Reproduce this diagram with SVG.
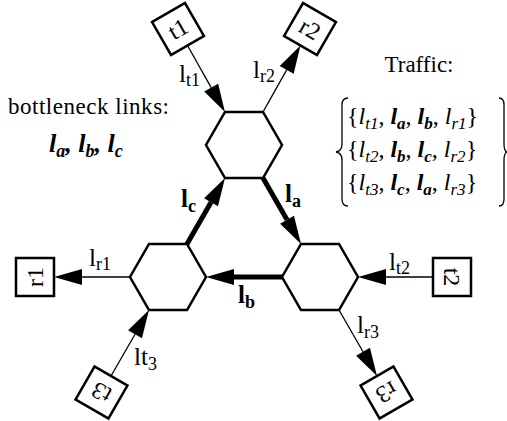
<svg xmlns="http://www.w3.org/2000/svg" width="507" height="421" viewBox="0 0 507 421">
<style>
.hex{fill:#fff;stroke:#000;stroke-width:2.5;stroke-linejoin:miter}
.box{fill:#fff;stroke:#000;stroke-width:2.5}
.thin{stroke:#000;stroke-width:1.3;fill:none;marker-end:url(#ah)}
.thick{stroke:#000;stroke-width:5;fill:none;marker-end:url(#ah)}
.brace{stroke:#000;stroke-width:1.3;fill:none}
text{font-family:"Liberation Serif","Times New Roman",serif;fill:#000}
.lbl{font-size:25px}
.bld{font-weight:bold}
.it{font-style:italic}
.bi{font-weight:bold;font-style:italic}
.bx{font-size:24px;text-anchor:middle}
</style>
<defs>
<marker id="ah" markerUnits="userSpaceOnUse" markerWidth="28" markerHeight="16" refX="0" refY="8" orient="auto" overflow="visible"><path d="M0,0 L28,8 L0,16 z" fill="#000"/></marker>
</defs>
<rect width="507" height="421" fill="#fff"/>

<g id="connectors">
<line class="thick" x1="187" y1="244" x2="211.03" y2="202.27"/>
<line class="thick" x1="263" y1="178" x2="287.03" y2="219.73"/>
<line class="thick" x1="282" y1="277" x2="234" y2="277"/>
<line class="thin" x1="187.5" y1="45.5" x2="211.2" y2="87.6"/>
<line class="thin" x1="263" y1="112" x2="286.7" y2="69.9"/>
<line class="thin" x1="130" y1="277" x2="82" y2="277"/>
<line class="thin" x1="433" y1="277" x2="386" y2="277"/>
<line class="thin" x1="111" y1="376" x2="135.03" y2="334.27"/>
<line class="thin" x1="339" y1="310" x2="363.03" y2="351.73"/>
</g>

<g id="router-top"><polygon class="hex" points="225,112 263,112 282,145 263,178 225,178 206,145"/></g>
<g id="router-left"><polygon class="hex" points="149,244 187,244 206,277 187,310 149,310 130,277"/></g>
<g id="router-right"><polygon class="hex" points="301,244 339,244 358,277 339,310 301,310 282,277"/></g>

<g id="node-t1" transform="translate(178,29) rotate(-30)"><rect class="box" x="-19" y="-19" width="38" height="38"/><text class="bx" x="0" y="8">t1</text></g>
<g id="node-r2" transform="translate(310,29) rotate(30)"><rect class="box" x="-19" y="-19" width="38" height="38"/><text class="bx" x="0" y="8">r2</text></g>
<g id="node-r1" transform="translate(35,277) rotate(-90)"><rect class="box" x="-19" y="-19" width="38" height="38"/><text class="bx" x="0" y="8">r1</text></g>
<g id="node-t2" transform="translate(452,277) rotate(90)"><rect class="box" x="-19" y="-19" width="38" height="38"/><text class="bx" x="0" y="8">t2</text></g>
<g id="node-t3" transform="translate(101.5,392.5) rotate(-150)"><rect class="box" x="-19" y="-19" width="38" height="38"/><text class="bx" x="0" y="8">t3</text></g>
<g id="node-r3" transform="translate(386.5,392.5) rotate(150)"><rect class="box" x="-19" y="-19" width="38" height="38"/><text class="bx" x="0" y="8">r3</text></g>

<g id="link-labels">
<text class="lbl" x="179" y="82">l<tspan font-size="18" dy="4">t1</tspan></text>
<text class="lbl" x="253" y="78">l<tspan font-size="18" dy="4">r2</tspan></text>
<text class="lbl bld" x="181" y="207">l<tspan font-size="18" dy="5">c</tspan></text>
<text class="lbl bld" x="285" y="202">l<tspan font-size="18" dy="5">a</tspan></text>
<text class="lbl bld" x="238" y="303">l<tspan font-size="18" dy="5">b</tspan></text>
<text class="lbl" x="89" y="266">l<tspan font-size="18" dy="4">r1</tspan></text>
<text class="lbl" x="134" y="365">lt<tspan font-size="18" dy="5">3</tspan></text>
<text class="lbl" x="389" y="270">l<tspan font-size="18" dy="4">t2</tspan></text>
<text class="lbl" x="357" y="333">l<tspan font-size="18" dy="5">r3</tspan></text>
</g>

<g id="legend-bottleneck">
<text x="8" y="114" font-size="23" textLength="161">bottleneck links:</text>
<text class="bi" x="49" y="152" font-size="26">l<tspan font-size="18" dy="5">a</tspan><tspan dy="-5">, l</tspan><tspan font-size="18" dy="5">b</tspan><tspan dy="-5">, l</tspan><tspan font-size="18" dy="5">c</tspan></text>
</g>

<g id="legend-traffic">
<text x="419" y="72" font-size="23" text-anchor="middle">Traffic:</text>
<path class="brace" d="M348,98 Q342,98 342,105 L342,144 Q342,151 336,152 Q342,153 342,160 L342,199 Q342,206 348,206"/>
<path class="brace" d="M499,98 Q504,98 504,105 L504,144 Q504,151 507,152 Q504,153 504,160 L504,199 Q504,206 499,206"/>
<text x="347" y="124" font-size="24">{<tspan class="it">l</tspan><tspan class="it" font-size="17" dy="5">t1</tspan><tspan dy="-5">, </tspan><tspan class="bi">l</tspan><tspan class="bi" font-size="17" dy="5">a</tspan><tspan dy="-5">, </tspan><tspan class="bi">l</tspan><tspan class="bi" font-size="17" dy="5">b</tspan><tspan dy="-5">, </tspan><tspan class="it">l</tspan><tspan class="it" font-size="17" dy="5">r1</tspan><tspan dy="-5">}</tspan></text>
<text x="347" y="157" font-size="24">{<tspan class="it">l</tspan><tspan class="it" font-size="17" dy="5">t2</tspan><tspan dy="-5">, </tspan><tspan class="bi">l</tspan><tspan class="bi" font-size="17" dy="5">b</tspan><tspan dy="-5">, </tspan><tspan class="bi">l</tspan><tspan class="bi" font-size="17" dy="5">c</tspan><tspan dy="-5">, </tspan><tspan class="it">l</tspan><tspan class="it" font-size="17" dy="5">r2</tspan><tspan dy="-5">}</tspan></text>
<text x="347" y="190" font-size="24">{<tspan class="it">l</tspan><tspan class="it" font-size="17" dy="5">t3</tspan><tspan dy="-5">, </tspan><tspan class="bi">l</tspan><tspan class="bi" font-size="17" dy="5">c</tspan><tspan dy="-5">, </tspan><tspan class="bi">l</tspan><tspan class="bi" font-size="17" dy="5">a</tspan><tspan dy="-5">, </tspan><tspan class="it">l</tspan><tspan class="it" font-size="17" dy="5">r3</tspan><tspan dy="-5">}</tspan></text>
</g>
</svg>
